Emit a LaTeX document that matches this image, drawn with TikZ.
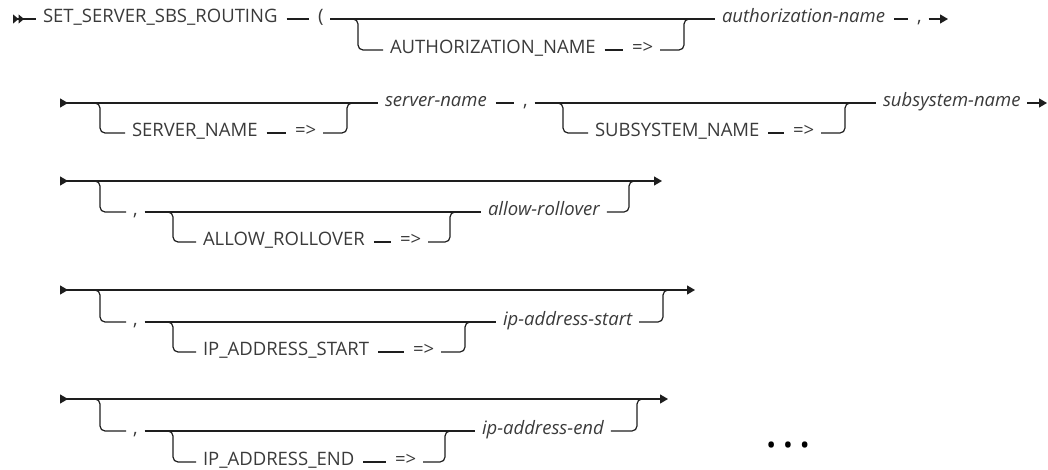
\documentclass[tikz,border=0pt]{standalone}
\usepackage{fontspec}
\setmainfont{Open Sans}
\usetikzlibrary{arrows.meta}

\definecolor{ink}{HTML}{3A3A3A}
\definecolor{railc}{HTML}{1E1E1E}

\tikzset{
    kw/.style={anchor=west, inner xsep=0pt, inner ysep=0pt, outer xsep=7pt,
        xshift=-7pt, text height=1.4ex, text depth=0pt, text=ink,
        font=\fontsize{18.5}{18.5}\selectfont},
    var/.style={kw, font=\fontsize{18.5}{18.5}\selectfont\itshape},
    rail/.style={draw=railc, line width=1.2pt},
    rc/.style={rounded corners=5pt},
    short/.style={shorten <=2pt, shorten >=2pt},
    begin2/.style={{Triangle[reversed,length=5.5pt,width=9pt]Triangle[reversed,length=5.5pt,width=9pt]}-},
    begin1/.style={{Triangle[reversed,length=8pt,width=9pt]}-},
    finish/.style={-{Triangle[length=8pt,width=9pt]}},
    through/.style={{Triangle[reversed,length=8pt,width=9pt]}-{Triangle[length=8pt,width=9pt]}}
}

\begin{document}
\begin{tikzpicture}[x=1pt, y=-1pt]
        \useasboundingbox (0,0) rectangle (1048,470);

            % Row 1: procedure name, authorization name
            %% Nodes
            \coordinate (r1s) at (13,19);
            \node[kw] (proc) at (43,19) {SET\_SERVER\_SBS\_ROUTING};
            \node[kw] (lp) at (318,19) {(};
            \node[kw] (authk) at (390,50) {AUTHORIZATION\_NAME};
            \node[kw] (autha) at (632,50) {=>};
            \node[var] (authv) at (722,19) {authorization-name};
            \node[kw] (c1) at (917,19) {,};
            \coordinate (r1e) at (948,19);
            \coordinate (j1a) at (358,19);
            \coordinate (j1b) at (684,19);

            %% Main line
            \draw [rail, begin2] (r1s) -- (proc.west);
            \draw [rail, short] (proc.east) -- (lp.west);
            \draw [rail] (lp.east) -- (authv.west);
            \draw [rail, short] (authv.east) -- (c1.west);
            \draw [rail, finish] (c1.east) -- (r1e);

            %% Optional keyword
            \draw [rail, rc] ([xshift=-7pt]j1a) -- (j1a) |- (authk.west);
            \draw [rail, short] (authk.east) -- (autha.west);
            \draw [rail, rc] (autha.east) -| (j1b) -- ([xshift=7pt]j1b);

            % Row 2: server name, subsystem name
            %% Nodes
            \coordinate (r2s) at (60,103);
            \node[kw] (servk) at (132,133) {SERVER\_NAME};
            \node[kw] (serva) at (295,133) {=>};
            \node[var] (servv) at (385,103) {server-name};
            \node[kw] (c2) at (523,103) {,};
            \node[kw] (subk) at (595,133) {SUBSYSTEM\_NAME};
            \node[kw] (suba) at (793,133) {=>};
            \node[var] (subv) at (883,103) {subsystem-name};
            \coordinate (r2e) at (1047,103);
            \coordinate (j2a) at (100,103);
            \coordinate (j2b) at (347,103);
            \coordinate (j2c) at (563,103);
            \coordinate (j2d) at (845,103);

            %% Main line
            \draw [rail, begin1] (r2s) -- (servv.west);
            \draw [rail, short] (servv.east) -- (c2.west);
            \draw [rail] (c2.east) -- (subv.west);
            \draw [rail, finish] (subv.east) -- (r2e);

            %% Optional keywords
            \draw [rail, rc] ([xshift=-7pt]j2a) -- (j2a) |- (servk.west);
            \draw [rail, short] (servk.east) -- (serva.west);
            \draw [rail, rc] (serva.east) -| (j2b) -- ([xshift=7pt]j2b);
            \draw [rail, rc] ([xshift=-7pt]j2c) -- (j2c) |- (subk.west);
            \draw [rail, short] (subk.east) -- (suba.west);
            \draw [rail, rc] (suba.east) -| (j2d) -- ([xshift=7pt]j2d);

            % Row 3: allow rollover
            %% Nodes
            \coordinate (r3s) at (60,181);
            \coordinate (r3e) at (662,181);
            \node[kw] (c3) at (133,212) {,};
            \node[kw] (rollk) at (203,242) {ALLOW\_ROLLOVER};
            \node[kw] (rolla) at (400,242) {=>};
            \node[var] (rollv) at (488,212) {allow-rollover};
            \coordinate (j3a) at (100,181);
            \coordinate (j3b) at (173,212);
            \coordinate (j3c) at (450,212);
            \coordinate (j3d) at (629,181);

            %% Main line
            \draw [rail, through] (r3s) -- (r3e);

            %% Optional parameter
            \draw [rail, rc] ([xshift=-7pt]j3a) -- (j3a) |- (c3.west);
            \draw [rail] (c3.east) -- (rollv.west);
            \draw [rail, rc] ([xshift=-7pt]j3b) -- (j3b) |- (rollk.west);
            \draw [rail, short] (rollk.east) -- (rolla.west);
            \draw [rail, rc] (rolla.east) -| (j3c) -- ([xshift=7pt]j3c);
            \draw [rail, rc] (rollv.east) -| (j3d) -- ([xshift=7pt]j3d);

            % Row 4: first IP address
            %% Nodes
            \coordinate (r4s) at (60,290);
            \coordinate (r4e) at (695,290);
            \node[kw] (c4) at (133,322) {,};
            \node[kw] (ipsk) at (203,352) {IP\_ADDRESS\_START};
            \node[kw] (ipsa) at (413,352) {=>};
            \node[var] (ipsv) at (503,322) {ip-address-start};
            \coordinate (j4a) at (100,290);
            \coordinate (j4b) at (173,322);
            \coordinate (j4c) at (465,322);
            \coordinate (j4d) at (663,290);

            %% Main line
            \draw [rail, through] (r4s) -- (r4e);

            %% Optional parameter
            \draw [rail, rc] ([xshift=-7pt]j4a) -- (j4a) |- (c4.west);
            \draw [rail] (c4.east) -- (ipsv.west);
            \draw [rail, rc] ([xshift=-7pt]j4b) -- (j4b) |- (ipsk.west);
            \draw [rail, short] (ipsk.east) -- (ipsa.west);
            \draw [rail, rc] (ipsa.east) -| (j4c) -- ([xshift=7pt]j4c);
            \draw [rail, rc] (ipsv.east) -| (j4d) -- ([xshift=7pt]j4d);

            % Row 5: last IP address
            %% Nodes
            \coordinate (r5s) at (60,399);
            \coordinate (r5e) at (668,399);
            \node[kw] (c5) at (133,431) {,};
            \node[kw] (ipek) at (203,462) {IP\_ADDRESS\_END};
            \node[kw] (ipea) at (395,462) {=>};
            \node[var] (ipev) at (482,431) {ip-address-end};
            \coordinate (j5a) at (100,399);
            \coordinate (j5b) at (173,431);
            \coordinate (j5c) at (445,431);
            \coordinate (j5d) at (637,399);

            %% Main line
            \draw [rail, through] (r5s) -- (r5e);

            %% Optional parameter
            \draw [rail, rc] ([xshift=-7pt]j5a) -- (j5a) |- (c5.west);
            \draw [rail] (c5.east) -- (ipev.west);
            \draw [rail, rc] ([xshift=-7pt]j5b) -- (j5b) |- (ipek.west);
            \draw [rail, short] (ipek.east) -- (ipea.west);
            \draw [rail, rc] (ipea.east) -| (j5c) -- ([xshift=7pt]j5c);
            \draw [rail, rc] (ipev.east) -| (j5d) -- ([xshift=7pt]j5d);

            % More parameters follow
            \node [text=black, font=\fontsize{26}{26}\selectfont] (more) at (788,448) {•\hspace{7pt}•\hspace{7pt}•};
\end{tikzpicture}
\end{document}
